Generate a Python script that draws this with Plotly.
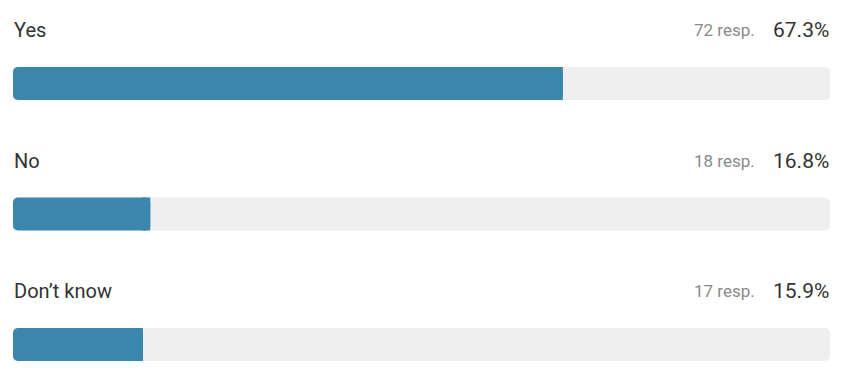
import plotly.graph_objects as go

categories = ["Yes", "No", "Don\u2019t know"]
responses = [72, 18, 17]
percents = [67.3, 16.8, 15.9]

W, H = 842, 378
row_gap = 130.5
bar_y0 = 83.5
label_offset = 53.5
bar_h = 33
n = len(categories)

bar_y = [bar_y0 + i * row_gap for i in range(n)]
label_y = [y - label_offset for y in bar_y]

fig = go.Figure()
# background track
fig.add_trace(go.Bar(
    x=[100] * n, y=bar_y, orientation="h", width=bar_h,
    marker=dict(color="#efefef", cornerradius=5, line=dict(width=0)),
    hoverinfo="skip", showlegend=False))
# value bars drawn from the value back to 0 so the left end is rounded
fig.add_trace(go.Bar(
    x=[-p for p in percents], base=percents, y=bar_y, orientation="h", width=bar_h,
    marker=dict(color="#3a86ad", cornerradius=5, line=dict(width=0)),
    showlegend=False))
# square-off the right end of value bars
fig.add_trace(go.Bar(
    x=[1] * n, base=[p - 1 for p in percents], y=bar_y, orientation="h", width=bar_h,
    marker=dict(color="#3a86ad", cornerradius=0, line=dict(width=0)),
    hoverinfo="skip", showlegend=False))

for cat, r, p, ly in zip(categories, responses, percents, label_y):
    fig.add_annotation(x=0, y=ly, xref="x", yref="y", text=cat, showarrow=False,
                       xanchor="left", yanchor="middle", xshift=-1,
                       font=dict(family="Roboto", size=20, color="#333333"))
    fig.add_annotation(x=100, y=ly, xref="x", yref="y", text=f"{p:.1f}%", showarrow=False,
                       xanchor="right", yanchor="middle", xshift=1,
                       font=dict(family="Roboto", size=21, color="#333333"))
    fig.add_annotation(x=100, y=ly, xref="x", yref="y", text=f"{r} resp.", showarrow=False,
                       xanchor="right", yanchor="middle", xshift=-73,
                       font=dict(family="Roboto", size=17, color="#8a8a8a"))

fig.update_layout(
    width=W, height=H, margin=dict(l=13, r=12, t=0, b=0),
    barmode="overlay", plot_bgcolor="white", paper_bgcolor="white",
    xaxis=dict(range=[0, 100], visible=False, fixedrange=True),
    yaxis=dict(range=[H, 0], visible=False, fixedrange=True),
)

fig.write_html("out.html")
